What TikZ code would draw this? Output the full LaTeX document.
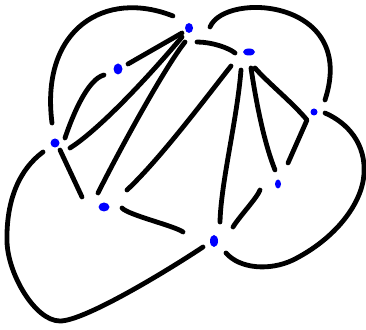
\documentclass[tikz,border=0pt]{standalone}
\usepackage{tikz}
\usetikzlibrary{calc,shapes.geometric}

\begin{document}
\begin{tikzpicture}[x=1pt, y=1pt,
  dot/.style={ellipse, fill=blue, draw=none, inner sep=0pt},
  stroke/.style={line width=4.8pt, line cap=round, line join=round}]
\useasboundingbox (0,0) rectangle (366,329);
% vertices
\node[dot, minimum width=8pt, minimum height=10pt] (a) at (189,301) {};
\node[dot, minimum width=12pt, minimum height=7pt] (b) at (249,277) {};
\node[dot, minimum width=9pt, minimum height=11pt] (c) at (118,260) {};
\node[dot, minimum width=9pt, minimum height=9pt] (d) at (55,186) {};
\node[dot, minimum width=7pt, minimum height=7pt] (e) at (314,217) {};
\node[dot, minimum width=6pt, minimum height=9pt] (f) at (278,145) {};
\node[dot, minimum width=11pt, minimum height=9pt] (g) at (104,122) {};
\node[dot, minimum width=8pt, minimum height=12pt] (h) at (214,88) {};
% outer arcs
\draw[stroke] ($(a)+(-16,12)$) .. controls +(-68,27) and +(-12,94) .. ($(d)+(-3,20)$);
\draw[stroke] ($(a)+(21,1)$) .. controls +(15,36) and +(33,101) .. ($(e)+(11,12)$);
\draw[stroke] ($(e)+(11,-1)$) .. controls +(23,-10) and +(2,30) .. (364,155)
  .. controls +(-2,-30) and +(42,21) .. (293,69)
  .. controls +(-23,-11) and +(14,-16) .. ($(h)+(12,-12)$);
\draw[stroke] ($(d)+(-12,-9)$) .. controls +(-23,-17) and +(-1,43) .. (7,87)
  .. controls +(1,-32) and +(-25,0) .. (60,8)
  .. controls +(25,0) and +(-33,-22) .. ($(h)+(-11,-6)$);
% inner edges
\draw[stroke] ($(a)+(8,-14)$) .. controls +(15,0) and +(-6,5) .. ($(b)+(-14,-1)$);
\draw[stroke] ($(c)+(10,5)$) -- ($(a)+(-7,-5)$);
\draw[stroke] ($(d)+(10,5)$) .. controls +(8,24) and +(-16,-4) .. ($(c)+(-14,-6)$);
\draw[stroke] ($(d)+(15,-5)$) .. controls +(30,19) and +(-32,-38) .. ($(a)+(-7,-9)$);
\draw[stroke] ($(g)+(-6,14)$) .. controls +(22,44) and +(-20,-25) .. ($(a)+(-4,-14)$);
\draw[stroke] ($(d)+(5,-7)$) -- ($(g)+(-22,10)$);
\draw[stroke] ($(g)+(23,17)$) .. controls +(33,31) and +(-26,-33) .. ($(b)+(-18,-14)$);
\draw[stroke] ($(b)+(-8,-18)$) .. controls +(-4,-50) and +(1,40) .. ($(h)+(6,19)$);
\draw[stroke] ($(b)+(2,-16)$) .. controls +(6,-40) and +(-10,25) .. ($(f)+(-3,14)$);
\draw[stroke] ($(b)+(6,-16)$) .. controls +(12,-14) and +(-15,18) .. ($(e)+(-7,-8)$) -- ($(f)+(10,21)$);
\draw[stroke] ($(f)+(-18,-6)$) .. controls +(-3,-8) and +(6,10) .. ($(h)+(19,14)$);
\draw[stroke] ($(g)+(18,-1)$) .. controls +(6,-7) and +(-8,6) .. ($(h)+(-31,9)$);
\end{tikzpicture}
\end{document}
